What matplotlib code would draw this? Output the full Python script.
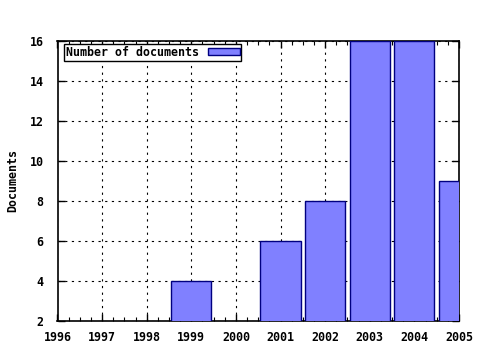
import numpy as np
import matplotlib
matplotlib.use("Agg")
import matplotlib.pyplot as plt
from matplotlib.ticker import MultipleLocator

years = [1999, 2001, 2002, 2003, 2004, 2005]
docs = [4, 6, 8, 16, 16, 9]
xticks = list(range(1996, 2006))
yticks = list(range(2, 17, 2))

plt.rcParams['font.family'] = 'DejaVu Sans Mono'
plt.rcParams['font.weight'] = 'bold'
fs = 8.4

fig = plt.figure(figsize=(4.8, 3.5), dpi=100)
ax = fig.add_axes([57.5 / 480, 29 / 350, 401.5 / 480, 280 / 350])

ax.bar(years, docs, width=0.9, color='#8080ff', edgecolor='#000080',
       linewidth=1, label='Number of documents', zorder=3)

ax.set_xlim(1996, 2005)
ax.set_ylim(2, 16)
ax.set_xticks(xticks)
ax.set_yticks(yticks)
ax.xaxis.set_minor_locator(MultipleLocator(0.25))
ax.grid(True, which='major', linestyle=(0, (2, 4)), color='black', linewidth=0.8, zorder=0)
ax.tick_params(axis='x', direction='in', top=True, labelsize=fs, length=5, width=1, pad=7)
ax.tick_params(axis='y', direction='in', right=True, labelsize=fs, length=5, width=1, pad=10)
ax.tick_params(which='minor', direction='in', top=True, bottom=True, length=3, width=0.8)
for lab in ax.get_xticklabels() + ax.get_yticklabels():
    lab.set_fontweight('bold')
for s in ax.spines.values():
    s.set_linewidth(1.2)
ax.set_ylabel('Documents', fontsize=fs, fontweight='bold')
ax.yaxis.set_label_coords((19 - 57.5) / 401.5, 0.5)

leg = ax.legend(loc='upper left', bbox_to_anchor=(6.5 / 401.5, 1 - 3 / 280),
                markerfirst=False, frameon=True, fancybox=False, borderpad=0.15,
                handlelength=2.7, handleheight=0.6, borderaxespad=0,
                handletextpad=0.8, prop={'weight': 'bold', 'size': fs})
leg.get_frame().set_edgecolor('black')
leg.get_frame().set_linewidth(1)
leg.get_frame().set_alpha(1)

fig.savefig('out.png', dpi=100)
